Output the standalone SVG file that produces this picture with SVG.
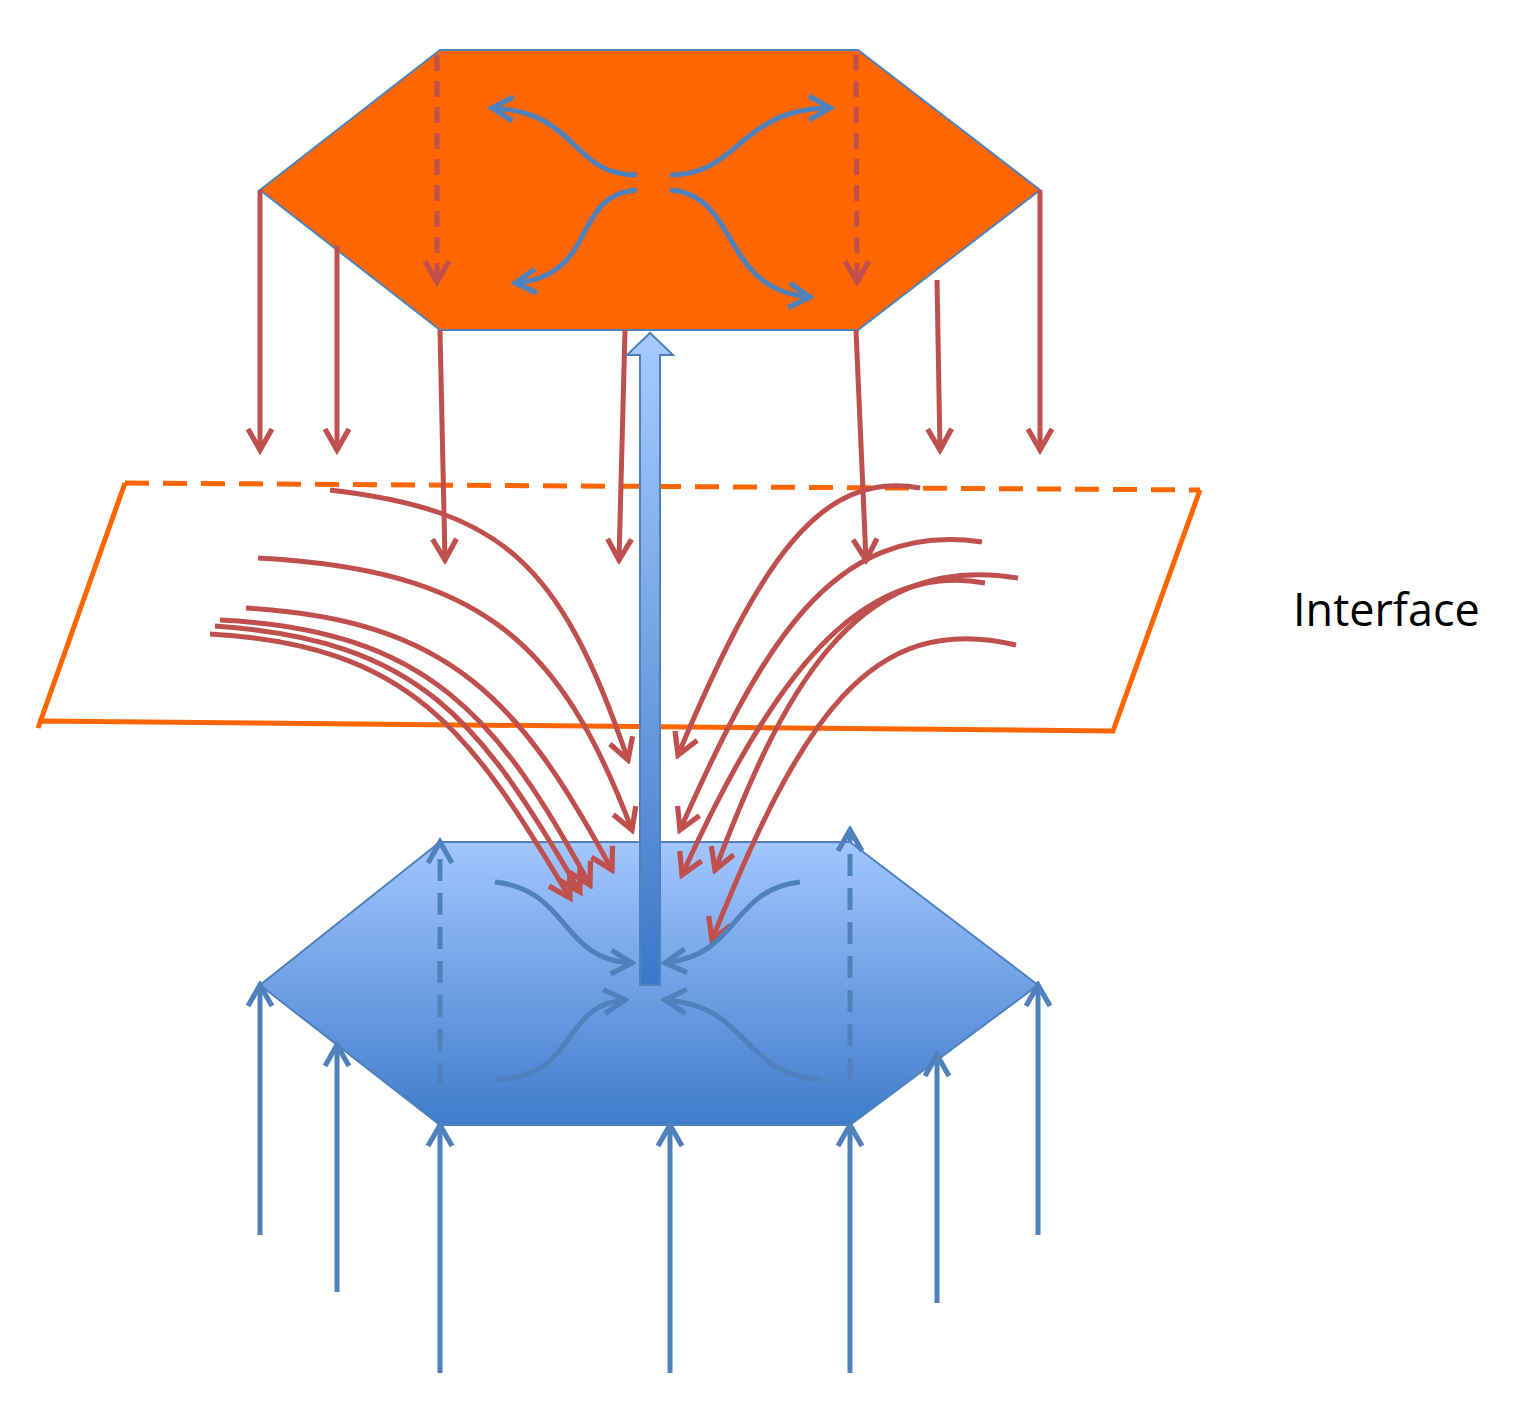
<svg xmlns="http://www.w3.org/2000/svg" width="1513" height="1415" viewBox="0 0 1513 1415">
<style>
.r{fill:none;stroke:#C0504D;stroke-width:5;marker-end:url(#rh)}
.b{fill:none;stroke:#4F81BD;stroke-width:5;marker-end:url(#bh)}
.rd{stroke-dasharray:16 10}
.bd{stroke-dasharray:22 12}
.o{fill:none;stroke:#FF6600;stroke-width:5}
</style>
<defs>
<marker id="rh" viewBox="0 0 20 20" refX="17" refY="10" markerWidth="6" markerHeight="6" orient="auto" markerUnits="strokeWidth"><path d="M3 2 L17 10 L3 18" fill="none" stroke="#C0504D" stroke-width="3.5"/></marker>
<marker id="bh" viewBox="0 0 20 20" refX="17" refY="10" markerWidth="6" markerHeight="6" orient="auto" markerUnits="strokeWidth"><path d="M3 2 L17 10 L3 18" fill="none" stroke="#4F81BD" stroke-width="3.5"/></marker>
<linearGradient id="hg" x1="0" y1="0" x2="0" y2="1"><stop offset="0" stop-color="#A2C6FF"/><stop offset="1" stop-color="#3F7CCB"/></linearGradient>
<linearGradient id="ag" x1="0" y1="0" x2="0" y2="1"><stop offset="0" stop-color="#A8CBFF"/><stop offset="1" stop-color="#3C78C8"/></linearGradient>
</defs>
<g id="top-hex"><polygon points="440,50 858,50 1040,190 858,330 440,330 260,190" fill="#FF6600" stroke="#4F81BD" stroke-width="2"/></g>
<g id="bottom-hex"><polygon points="440,842 850,842 1038,985 850,1125 440,1125 260,985" fill="url(#hg)" stroke="#4F81BD" stroke-width="2"/></g>
<g id="interface"><path class="o" d="M125,483 L1200,490" stroke-dasharray="24 14"/><path class="o" d="M125,483 L38,728 M38,721 L1113,731 L1200,490"/></g>
<g id="connectors">
<path class="r rd" d="M437,55 L437,282"/>
<path class="r rd" d="M856,55 L857,282"/>
<path class="b" d="M637,175 C570,175 580,112 492,108"/>
<path class="b" d="M670,175 C740,175 740,108 830,108"/>
<path class="b" d="M637,190 C570,195 600,275 515,283"/>
<path class="b" d="M670,190 C740,195 720,290 810,297"/>
<path class="r" d="M260,190 L260,450"/>
<path class="r" d="M337,245 L337,450"/>
<path class="r" d="M440,330 L445,560"/>
<path class="r" d="M625,330 L619,560"/>
<path class="r" d="M856,330 L866,560"/>
<path class="r" d="M937,280 L940,450"/>
<path class="r" d="M1040,190 L1040,450"/>
<path d="M640,985 L640,355 L627,355 L650,333 L673,355 L660,355 L660,985 Z" fill="url(#ag)" stroke="#4F81BD" stroke-width="2"/>
<path class="r" d="M330,490 C500,510 560,560 628,760"/>
<path class="r" d="M258,558 C480,570 560,640 632,830"/>
<path class="r" d="M246,608 C450,620 520,700 612,870"/>
<path class="r" d="M220,620 C430,630 500,720 590,885"/>
<path class="r" d="M215,626 C420,640 480,720 580,892"/>
<path class="r" d="M210,634 C410,645 470,730 570,898"/>
<path class="r" d="M920,488 C820,470 760,560 678,755"/>
<path class="r" d="M982,542 C830,520 760,650 680,830"/>
<path class="r" d="M985,583 C860,560 770,680 682,875"/>
<path class="r" d="M1018,578 C850,550 780,700 715,870"/>
<path class="r" d="M1016,645 C870,610 800,720 712,940"/>
<path class="b" d="M260,1235 L260,985"/>
<path class="b" d="M337,1292 L337,1045"/>
<path class="b" d="M440,1373 L440,1125"/>
<path class="b" d="M670,1373 L670,1125"/>
<path class="b" d="M850,1373 L850,1125"/>
<path class="b" d="M937,1303 L937,1055"/>
<path class="b" d="M1038,1235 L1038,985"/>
<path class="b bd" d="M440,1085 L440,842"/>
<path class="b bd" d="M850,1080 L850,830"/>
<path class="b" d="M495,882 C570,890 560,960 632,963"/>
<path class="b" d="M800,882 C730,890 740,955 665,963"/>
<path class="b" d="M497,1080 C580,1075 560,1005 625,1000"/>
<path class="b" d="M822,1080 C740,1075 750,1005 665,1000"/>
</g>
<text x="1293" y="626" font-family="Open Sans, Liberation Sans, sans-serif" font-size="45" fill="#000">Interface</text>
</svg>
